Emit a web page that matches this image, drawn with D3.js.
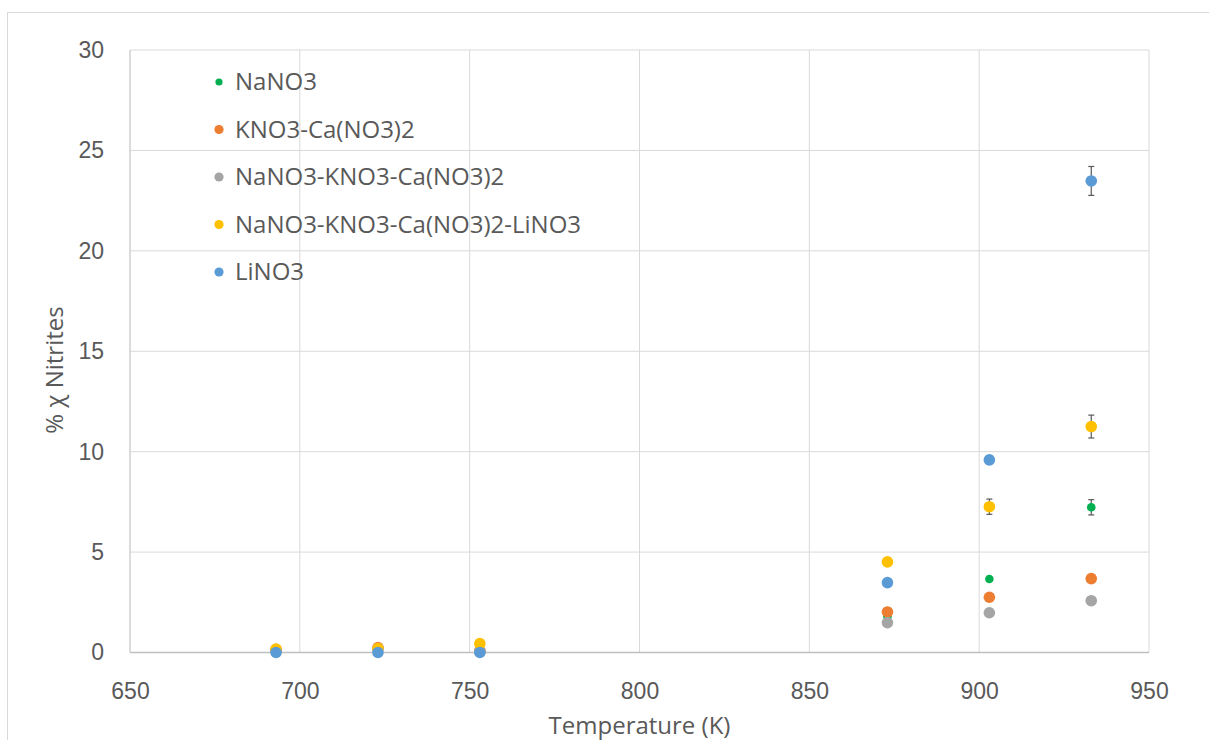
<!DOCTYPE html>
<html>
<head>
<meta charset="utf-8">
<script src="https://cdn.jsdelivr.net/npm/d3@7"></script>
<style>
  html, body { margin: 0; padding: 0; background: #fff; }
  svg { display: block; font-family: "Open Sans", "Noto Sans", sans-serif; }
</style>
</head>
<body>
<svg id="chart" width="1209" height="740"></svg>
<script>
// Temperatures (K) at which nitrite fraction was measured
const temperatures = [693, 723, 753, 873, 903, 933];

// % nitrite per salt system
const seriesNames = [
  "NaNO3",
  "KNO3-Ca(NO3)2",
  "NaNO3-KNO3-Ca(NO3)2",
  "NaNO3-KNO3-Ca(NO3)2-LiNO3",
  "LiNO3"
];
const seriesColors = ["#00b050", "#ed7d31", "#a5a5a5", "#ffc000", "#5b9bd5"];
const seriesRadius = [4.3, 5.8, 5.8, 5.8, 5.8];

const naNO3      = [0.05, 0.1, 0.05, 1.8, 3.66, 7.23];
const kCa        = [0.15, 0.25, 0.1, 2.02, 2.75, 3.68];
const naKCa      = [0.1, 0.2, 0.05, 1.49, 1.98, 2.58];
const naKCaLi    = [0.17, 0.2, 0.44, 4.51, 7.26, 11.25];
const liNO3      = [0.0, 0.0, 0.0, 3.48, 9.59, 23.48];

// Standard deviation error bars
const naNO3Err   = [0, 0, 0, 0, 0, 0.38];
const kCaErr     = [0, 0, 0, 0, 0, 0];
const naKCaErr   = [0, 0, 0, 0, 0, 0];
const naKCaLiErr = [0, 0, 0, 0, 0.38, 0.57];
const liNO3Err   = [0, 0, 0, 0, 0.2, 0.72];

const xTicks = [650, 700, 750, 800, 850, 900, 950];
const yTicks = [0, 5, 10, 15, 20, 25, 30];

const allValues = [naNO3, kCa, naKCa, naKCaLi, liNO3];
const allErrors = [naNO3Err, kCaErr, naKCaErr, naKCaLiErr, liNO3Err];

const svg = d3.select("#chart");
const margin = { left: 130, top: 50, right: 1149, bottom: 652.5 };
const textColor = "#595959";

const x = d3.scaleLinear().domain([650, 950]).range([margin.left, margin.right]);
const y = d3.scaleLinear().domain([0, 30]).range([margin.bottom, margin.top]);

// Chart frame
svg.append("rect")
  .attr("x", 7.5).attr("y", 12.5)
  .attr("width", 1220).attr("height", 760)
  .attr("fill", "none").attr("stroke", "#d9d9d9").attr("stroke-width", 1);

// Gridlines
const grid = svg.append("g");
grid.selectAll("line.gx").data(xTicks).join("line")
  .attr("x1", d => x(d)).attr("x2", d => x(d))
  .attr("y1", y(0)).attr("y2", y(30))
  .attr("stroke", "#d9d9d9").attr("stroke-width", 1);
grid.selectAll("line.gy").data(yTicks).join("line")
  .attr("x1", x(650)).attr("x2", x(950))
  .attr("y1", d => y(d)).attr("y2", d => y(d))
  .attr("stroke", "#d9d9d9").attr("stroke-width", 1);

// Axis baselines
svg.append("line")
  .attr("x1", x(650)).attr("x2", x(950))
  .attr("y1", y(0)).attr("y2", y(0))
  .attr("stroke", "#bfbfbf").attr("stroke-width", 1.5);
svg.append("line")
  .attr("x1", x(650)).attr("x2", x(650))
  .attr("y1", y(0)).attr("y2", y(30))
  .attr("stroke", "#d0d0d0").attr("stroke-width", 1.2);

// Axes (tick labels only)
const xAxis = d3.axisBottom(x).tickValues(xTicks).tickSize(0).tickPadding(0);
const gx = svg.append("g").attr("transform", `translate(0,${y(0)})`).call(xAxis);
gx.select(".domain").remove();
gx.selectAll("text").attr("fill", textColor).style("font-size", "23px")
  .attr("y", 46).attr("dy", "0");

const yAxis = d3.axisLeft(y).tickValues(yTicks).tickSize(0).tickPadding(26);
const gy = svg.append("g").attr("transform", `translate(${x(650)},0)`).call(yAxis);
gy.select(".domain").remove();
gy.selectAll("text").attr("fill", textColor).style("font-size", "23px");

// Axis titles
svg.append("text")
  .attr("x", (x(650) + x(950)) / 2).attr("y", 734)
  .attr("text-anchor", "middle").attr("fill", textColor)
  .style("font-size", "24px").text("Temperature (K)");
svg.append("text")
  .attr("transform", "translate(63,370) rotate(-90)")
  .attr("text-anchor", "middle").attr("fill", textColor)
  .style("font-size", "24px").text("% χ Nitrites");

// Error bars and points
allValues.forEach((vals, si) => {
  const g = svg.append("g");
  const pts = temperatures.map((t, i) => ({ t, v: vals[i], e: allErrors[si][i] }))
    .filter(d => d.v !== null);
  const withErr = pts.filter(d => d.e > 0);
  const cap = 3;
  g.selectAll("line.eb").data(withErr).join("line")
    .attr("x1", d => x(d.t)).attr("x2", d => x(d.t))
    .attr("y1", d => y(d.v - d.e)).attr("y2", d => y(d.v + d.e))
    .attr("stroke", textColor).attr("stroke-width", 1.2);
  g.selectAll("line.et").data(withErr).join("line")
    .attr("x1", d => x(d.t) - cap).attr("x2", d => x(d.t) + cap)
    .attr("y1", d => y(d.v + d.e)).attr("y2", d => y(d.v + d.e))
    .attr("stroke", textColor).attr("stroke-width", 1.2);
  g.selectAll("line.ebt").data(withErr).join("line")
    .attr("x1", d => x(d.t) - cap).attr("x2", d => x(d.t) + cap)
    .attr("y1", d => y(d.v - d.e)).attr("y2", d => y(d.v - d.e))
    .attr("stroke", textColor).attr("stroke-width", 1.2);
  g.selectAll("circle").data(pts).join("circle")
    .attr("cx", d => x(d.t)).attr("cy", d => y(d.v))
    .attr("r", seriesRadius[si]).attr("fill", seriesColors[si]);
});

// Legend
const legend = svg.append("g").attr("transform", "translate(219,82)");
seriesNames.forEach((name, i) => {
  const row = legend.append("g").attr("transform", `translate(0,${i * 47.5})`);
  row.append("circle").attr("r", i === 0 ? 3.6 : 4.6).attr("fill", seriesColors[i]);
  row.append("text").attr("x", 16).attr("dy", "0.35em")
    .attr("fill", textColor).style("font-size", "24px").text(name);
});
</script>
</body>
</html>
